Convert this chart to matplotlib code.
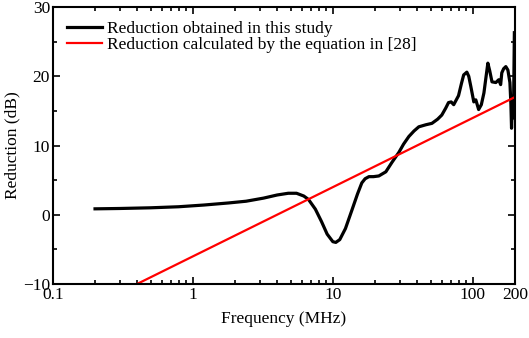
import matplotlib.pyplot as plt
from matplotlib.ticker import MultipleLocator, LogLocator, NullFormatter

plt.rcParams['font.family'] = ['Liberation Serif', 'DejaVu Serif']
plt.rcParams['font.size'] = 12.5

freq = [0.2, 0.3, 0.5, 0.79, 1.2, 1.8, 2.4, 3.2, 4.0, 4.8, 5.5, 6.2, 6.7, 7.5,
        8.3, 9.1, 10.0, 10.5, 11.2, 12.3, 13.7, 15.0, 16.1, 17.0, 18.1, 19.5,
        21.3, 23.9, 26.5, 29.6, 32.0, 34.9, 38.0, 41.1, 46.2, 51.0, 56.0, 60.0,
        64.0, 67.0, 70.0, 73.0, 79.0, 83.0, 86.0, 90.6, 93.5, 96.8, 101.6, 105.0,
        110.0, 115.0, 120.0, 124.0, 128.0, 132.0, 137.0, 146.0, 153.0, 158.0,
        161.0, 166.0, 172.0, 178.0, 184.0, 187.0, 189.0, 192.0, 195.0, 198.0]
measured = [0.85, 0.9, 1.0, 1.15, 1.4, 1.7, 1.95, 2.4, 2.85, 3.1, 3.1, 2.7, 2.2, 0.8,
            -1.0, -2.8, -3.9, -4.0, -3.6, -2.0, 0.7, 3.0, 4.6, 5.2, 5.5, 5.5,
            5.6, 6.2, 7.6, 9.0, 10.2, 11.3, 12.1, 12.7, 13.0, 13.2, 13.8, 14.4,
            15.4, 16.2, 16.3, 15.9, 17.2, 19.0, 20.2, 20.6, 20.0, 18.5, 16.3, 16.6,
            15.2, 15.9, 17.6, 19.8, 21.9, 20.8, 19.2, 19.1, 19.5, 18.8,
            20.5, 21.1, 21.4, 20.9, 19.1, 16.0, 12.5, 16.5, 14.0, 26.3]

# reduction from the equation in [28]
eq_freq = [0.4, 200]
eq_red = [-10, 17]

fig = plt.figure(figsize=(5.29, 3.38), dpi=100)
ax = fig.add_axes([0.100, 0.16, 0.8735, 0.819])

ax.plot(freq, measured, color='black', lw=2.3,
        label='Reduction obtained in this study')
ax.plot(eq_freq, eq_red, color='red', lw=1.6,
        label='Reduction calculated by the equation in [28]')

ax.set_xscale('log')
ax.set_xlim(0.1, 200)
ax.set_ylim(-10, 30)
ax.set_xticks([0.1, 1, 10, 100, 200])
ax.set_xticklabels(['0.1', '1', '10', '100', '200'])
ax.xaxis.set_minor_locator(LogLocator(base=10, subs=range(2, 10)))
ax.xaxis.set_minor_formatter(NullFormatter())
ax.yaxis.set_major_locator(MultipleLocator(10))
ax.yaxis.set_minor_locator(MultipleLocator(5))

ax.tick_params(which='both', direction='in', top=True, right=True, width=1.2)
ax.tick_params(which='major', length=5, pad=2)
ax.tick_params(which='minor', length=3)
for s in ax.spines.values():
    s.set_linewidth(1.5)

ax.set_xlabel('Frequency (MHz)', labelpad=6)
ax.set_ylabel('Reduction (dB)', labelpad=2)

ax.legend(loc='upper left', frameon=False, handlelength=2.0, handletextpad=0.3,
          labelspacing=0.0, borderaxespad=0.4, borderpad=0.4)

fig.savefig('out.png', dpi=100)
